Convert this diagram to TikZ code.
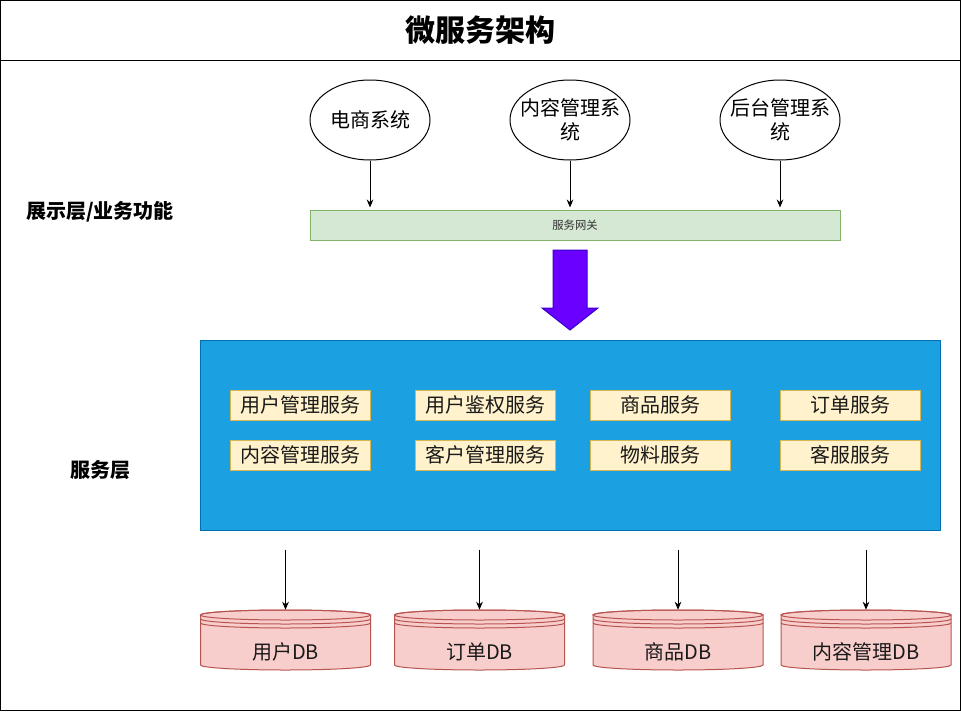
\documentclass[tikz,border=0pt]{standalone}
\usepackage{fontspec}
\setmainfont{Noto Sans CJK SC}
\usetikzlibrary{arrows.meta,positioning,calc,shapes.geometric}
\definecolor{gwfill}{HTML}{D5E8D4}
\definecolor{gwline}{HTML}{82B366}
\definecolor{svcfill}{HTML}{FFF2CC}
\definecolor{svcline}{HTML}{D6B656}
\definecolor{layerfill}{HTML}{1BA1E2}
\definecolor{layerline}{HTML}{006EAF}
\definecolor{dbfill}{HTML}{F8CECC}
\definecolor{dbline}{HTML}{B85450}
\definecolor{bigfill}{HTML}{6A00FF}
\definecolor{bigline}{HTML}{3700CC}
\tikzset{
  flowln/.style={-{Stealth[length=6pt,width=5pt]}, line width=0.75pt},
  sysnode/.style={ellipse, draw, line width=0.75pt, minimum width=90pt,
    minimum height=60pt, inner sep=0pt, align=center,
    font=\fontsize{15}{18}\selectfont},
  svcbox/.style={draw=svcline, fill=svcfill, line width=0.75pt,
    minimum width=105pt, minimum height=22.5pt, inner sep=0pt,
    text=black!90, font=\fontsize{15}{18}\selectfont},
  layerlbl/.style={font=\fontsize{15}{18}\selectfont\bfseries},
  dbbox/.style={minimum width=127.5pt, minimum height=45pt, inner sep=0pt},
  dbtext/.style={text=black!90, font=\fontsize{15}{18}\selectfont},
}
% zero width line, so the ellipse keeps its size
\newcommand{\zw}[1]{\makebox[0pt]{#1}}
% #1 name, #2 centre x, #3 text
\newcommand{\dbstore}[3]{%
  \begin{scope}[shift={(#2,-615)}]
    \filldraw[fill=dbfill, draw=dbline, line width=0.75pt]
      (-85,0) -- (-85,-50)
      arc[start angle=180, end angle=360, x radius=85, y radius=5]
      -- (85,0)
      arc[start angle=0, end angle=180, x radius=85, y radius=5] -- cycle;
    \draw[dbline, line width=0.75pt] (0,0) ellipse (85 and 5);
    \draw[dbline, line width=0.75pt] (-85,-4)
      arc[start angle=180, end angle=360, x radius=85, y radius=5];
    \draw[dbline, line width=0.75pt] (-85,-8)
      arc[start angle=180, end angle=360, x radius=85, y radius=5];
  \end{scope}
  \node[dbbox] (#1) at (#2,-640) {};
  \node[dbtext] at (#2,-652) {#3};
}

\begin{document}
\begin{tikzpicture}[x=0.75pt, y=0.75pt]
  \useasboundingbox (0,0) rectangle (961,-711);
  \draw[line width=0.75pt] (0.5,-0.5) rectangle (960,-710);
  \draw[line width=0.75pt] (0.5,-60) -- (960,-60);
  \node (title) at (480,-30) {\fontsize{22.5}{26}\selectfont\bfseries 微服务架构};

  % top systems and gateway
  \node[sysnode] (shop) at (370,-120) {\zw{电商系统}};
  \node[sysnode] (cms) at (570,-120) {\zw{内容管理系}\\\zw{统}};
  \node[sysnode] (admin) at (780,-120) {\zw{后台管理系}\\\zw{统}};
  \node[draw=gwline, fill=gwfill, line width=0.75pt, minimum width=397.5pt,
    minimum height=22.5pt, inner sep=0pt, text=black!80,
    font=\fontsize{8.5}{10}\selectfont] (gw) at (575,-225) {服务网关};
  \foreach \s in {shop,cms,admin}
    \draw[flowln] (\s.south) -- ($(\s.south |- gw.north)+(0,2)$);
  \node[layerlbl] (lblshow) at (100,-212) {展示层/业务功能};

  % big arrow down
  \filldraw[fill=bigfill, draw=bigline, line width=0.75pt]
    (553,-250) -- (587,-250) -- (587,-308) -- (598,-308) -- (570,-330)
    -- (542,-308) -- (553,-308) -- cycle;

  % service layer
  \node[draw=layerline, fill=layerfill, line width=0.75pt,
    minimum width=555pt, minimum height=142.5pt, inner sep=0pt]
    (layer) at (570,-435) {};
  \node[layerlbl] (lblsvc) at (100,-470) {服务层};
  \node[svcbox] (s11) at (300,-405) {用户管理服务};
  \node[svcbox] (s12) at (485,-405) {用户鉴权服务};
  \node[svcbox] (s13) at (660,-405) {商品服务};
  \node[svcbox] (s14) at (850,-405) {订单服务};
  \node[svcbox] (s21) at (300,-455) {内容管理服务};
  \node[svcbox] (s22) at (485,-455) {客户管理服务};
  \node[svcbox] (s23) at (660,-455) {物料服务};
  \node[svcbox] (s24) at (850,-455) {客服服务};

  % databases
  \dbstore{dbuser}{285.5}{用户DB}
  \dbstore{dborder}{479.5}{订单DB}
  \dbstore{dbgoods}{678}{商品DB}
  \dbstore{dbcms}{866}{内容管理DB}
  \foreach \d in {dbuser,dborder,dbgoods,dbcms} {
    \coordinate (\d top) at ($(\d.north)+(0,60)$);
    \draw[flowln] (\d top) -- (\d.north);
  }
\end{tikzpicture}
\end{document}
